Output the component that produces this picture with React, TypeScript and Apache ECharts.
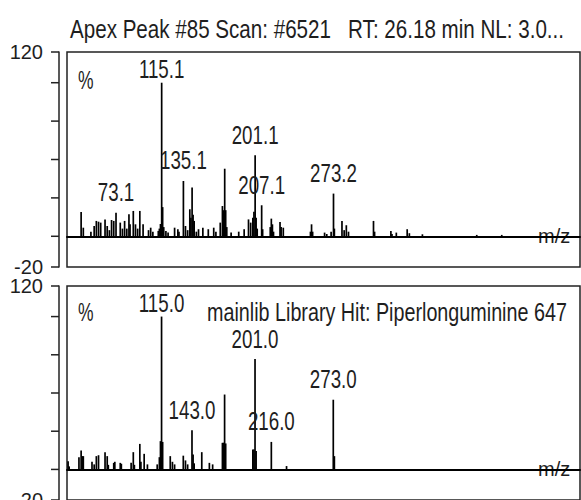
import { useEffect, useRef } from "react";
import * as echarts from "echarts";

const FONT = "'Liberation Sans', Arial, sans-serif";

// m/z window shared by both spectra
const mzMin = 28;
const mzMax = 500;

// relative abundance axis
const yMin = -20;
const yMax = 120;
const yTickValues = [-20, 0, 25, 50, 75, 100, 120];
const yLabelValues = [-20, 120];

// measured scan (apex peak #85)
const scanMz = [
  41, 43, 50, 53, 55, 57, 59, 63, 65, 67, 69, 71, 73.1, 77, 79, 81, 83, 85, 86, 89, 91, 93, 95,
  98, 103, 105, 107, 112, 113, 114, 115.1, 116, 117, 119, 121, 127, 130, 131, 135.1, 137, 139,
  141, 142, 143.1, 144, 145, 147, 149, 153, 158, 163, 165, 169, 171, 172, 173.1, 174, 175, 179,
  186, 191, 195, 197, 199, 200, 201.1, 202, 203, 207.1, 208, 215, 216, 217, 218, 224, 225, 227,
  252, 253, 254, 265, 267, 271, 273.2, 274, 281, 283, 285, 287, 310, 311, 326, 327, 331, 341,
  343, 355, 405, 428,
];
const scanIntensity = [
  15.8, 5.6, 3, 6.7, 10, 9.5, 8.9, 11, 6.7, 4, 10.6, 10, 15.4, 8.9, 5, 10, 5, 14.3, 7.8, 16.5,
  7.8, 5, 16.5, 7.8, 4, 5.6, 3, 3.5, 5, 8, 100, 19, 6, 3.5, 2.5, 5.6, 4.6, 3, 36, 6.7, 4, 17.6,
  12, 31.7, 14, 10, 3, 4.6, 5.6, 4.6, 5.6, 3, 8.9, 19.7, 17, 44, 17, 6, 2.5, 3, 4.6, 11, 8.9, 12,
  16, 52.7, 12, 5, 20.2, 4.6, 6, 11.5, 7.8, 3, 9.3, 6, 5.6, 3, 7.8, 3, 2.4, 1.5, 3, 27.8, 5, 10,
  4, 7.2, 3, 10, 3, 3.5, 1.5, 2.4, 4.6, 2, 1.3, 0.9, 0.9,
];
const scanLabelled = [73.1, 115.1, 135.1, 201.1, 207.1, 273.2];

// library reference spectrum (mainlib hit)
const libMz = [
  29, 30, 39, 41, 42, 43, 51, 53, 55, 57, 63, 65, 66, 71, 72, 77, 78, 87, 89, 90, 95, 96, 99,
  102, 111, 113, 114, 115.0, 116, 123, 125, 127, 135, 137, 139, 143.0, 144, 145, 152, 159, 162,
  171, 172, 173, 174, 199, 200, 201.0, 202, 216.0, 230, 273.0, 274,
];
const libIntensity = [
  5.4, 2, 8, 12.4, 8.7, 8.7, 5, 3.3, 8.7, 9.3, 11.3, 8.7, 3, 4.3, 5, 4.3, 3.7, 4.3, 11.3, 3,
  16.7, 5, 10.2, 3.3, 3.3, 8, 18.5, 100, 18, 8.7, 5, 3.3, 9, 5.9, 3.3, 25.6, 9.8, 4, 11.3, 4.3,
  3.3, 17.4, 17.5, 49, 17, 13, 13, 72.2, 12, 18, 2.2, 45.6, 8.7,
];
const libLabelled = [115.0, 143.0, 201.0, 216.0, 273.0];

const scanTitle = "Apex Peak #85 Scan: #6521   RT: 26.18 min NL: 3.0...";
const libTitle = "mainlib Library Hit: Piperlonguminine 647";

const INK = "#1e1e1e";
const AXIS_OFFSET = 8;
const TICK_LEN = 8;

// condensed text: a regular sans face squeezed horizontally
function narrowText(text: string, x: number, y: number, fontSize: number, squeeze: number) {
  return {
    type: "text",
    x,
    y,
    scaleX: squeeze,
    silent: true,
    style: {
      text,
      fontFamily: FONT,
      fontSize,
      fill: INK,
      align: "left",
      verticalAlign: "middle",
      textAlign: "left",
      textVerticalAlign: "middle",
    },
  };
}

function labelPoints(mz: number[], intensity: number[], labelled: number[]) {
  return labelled.map((m) => [m, intensity[mz.indexOf(m)]]);
}

function panelAxes(gridIndex: number) {
  return {
    x: {
      type: "value" as const,
      gridIndex,
      min: mzMin,
      max: mzMax,
      axisLine: { show: true, onZero: true, lineStyle: { color: "#000", width: 2 } },
      axisTick: { show: false },
      axisLabel: { show: false },
      splitLine: { show: false },
      name: "m/z",
      nameLocation: "end" as const,
      nameGap: -42,
      nameTextStyle: { fontFamily: FONT, fontSize: 20, color: INK, verticalAlign: "middle" },
    },
    y: {
      type: "value" as const,
      gridIndex,
      min: yMin,
      max: yMax,
      offset: AXIS_OFFSET,
      axisLine: { show: true, onZero: false, lineStyle: { color: "#222", width: 1.5 } },
      axisTick: { show: false },
      axisLabel: {
        customValues: yLabelValues,
        margin: 16,
        fontFamily: FONT,
        fontSize: 20,
        color: INK,
      },
      splitLine: { show: false },
    },
  };
}

function peakSeries(index: number, mz: number[], intensity: number[]) {
  return {
    type: "bar",
    xAxisIndex: index,
    yAxisIndex: index,
    barWidth: 1.7,
    itemStyle: { color: "#000" },
    data: mz.map((m, i) => [m, intensity[i]]),
  };
}

// abundance ticks on the offset axis line, placed through the axis scale
function tickSeries(index: number) {
  return {
    type: "custom",
    xAxisIndex: index,
    yAxisIndex: index,
    silent: true,
    clip: false,
    data: yTickValues.map((v) => [mzMin, v]),
    renderItem: (_params: any, api: any) => {
      const p = api.coord([api.value(0), api.value(1)]);
      const x1 = p[0] - AXIS_OFFSET;
      return {
        type: "line",
        shape: { x1: x1 - TICK_LEN, y1: p[1], x2: x1, y2: p[1] },
        style: { stroke: "#222", lineWidth: 1.5 },
      };
    },
  };
}

function peakLabelSeries(index: number, points: number[][]) {
  return {
    type: "custom",
    xAxisIndex: index,
    yAxisIndex: index,
    silent: true,
    clip: false,
    z: 5,
    data: points,
    renderItem: (_params: any, api: any) => {
      const m = api.value(0) as number;
      const v = api.value(1) as number;
      const p = api.coord([m, v]);
      const lift = v >= 100 ? 13 : 20;
      return {
        type: "text",
        x: p[0],
        y: p[1] - lift,
        scaleX: 0.75,
        style: {
          text: m.toFixed(1),
          fontFamily: FONT,
          fontSize: 25,
          fill: INK,
          align: "center",
          verticalAlign: "middle",
          textAlign: "center",
          textVerticalAlign: "middle",
        },
      };
    },
  };
}

export default function App() {
  const ref = useRef<HTMLDivElement>(null);

  useEffect(() => {
    if (!ref.current) return;
    const chart = echarts.init(ref.current, null, { renderer: "svg" });
    const top = panelAxes(0);
    const bottom = panelAxes(1);
    const frame = {
      show: true,
      borderColor: "#222",
      borderWidth: 1.5,
      backgroundColor: "transparent",
      containLabel: false,
      outerBoundsMode: "none",
    };
    chart.setOption({
      animation: false,
      backgroundColor: "#fff",
      graphic: [
        narrowText(scanTitle, 70, 29, 25, 0.824),
        narrowText("%", 78, 80, 25, 0.7),
        narrowText(libTitle, 207, 312.5, 25, 0.79),
        narrowText("%", 78, 312.5, 25, 0.7),
      ],
      grid: [
        { ...frame, left: 67, top: 52, width: 513, height: 215 },
        { ...frame, left: 67, top: 286, width: 513, height: 214 },
      ],
      xAxis: [top.x, bottom.x],
      yAxis: [top.y, bottom.y],
      series: [
        peakSeries(0, scanMz, scanIntensity),
        peakSeries(1, libMz, libIntensity),
        tickSeries(0),
        tickSeries(1),
        peakLabelSeries(0, labelPoints(scanMz, scanIntensity, scanLabelled)),
        peakLabelSeries(1, labelPoints(libMz, libIntensity, libLabelled)),
      ],
    });
    return () => chart.dispose();
  }, []);

  return (
    <div
      ref={ref}
      style={{ position: "fixed", left: 0, top: 0, width: 581, height: 500 }}
    />
  );
}
